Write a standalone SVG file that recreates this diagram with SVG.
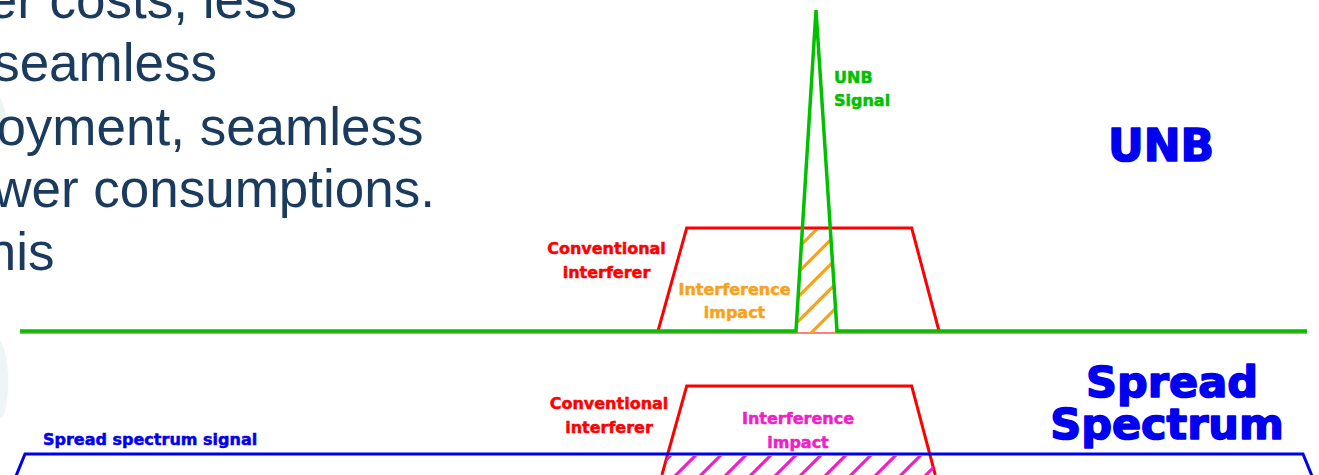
<svg xmlns="http://www.w3.org/2000/svg" width="1319" height="475" viewBox="0 0 1319 475">
  <style>
    .body { font-family: "Liberation Sans", Arial, sans-serif; font-size: 53px; fill: #1A3A5E; text-anchor: end; }
    .lbl { font-family: "DejaVu Sans", Verdana, sans-serif; font-weight: bold; font-size: 16px; stroke-width: 0.5; }
    .big { font-family: "DejaVu Sans", Verdana, sans-serif; font-weight: bold; fill: #0000F0; stroke: #0000F0; stroke-width: 1.6; stroke-linejoin: round; text-anchor: middle; }
    .red { fill: #FF0000; stroke: #FF0000; text-anchor: middle; }
    .green { fill: #00C000; stroke: #00C000; }
    .orange { fill: #F8A21C; stroke: #F8A21C; text-anchor: middle; }
    .magenta { fill: #F020C8; stroke: #F020C8; text-anchor: middle; }
    .blue { fill: #0000F0; stroke: #0000F0; }
    .redline { fill: none; stroke: #FF0000; stroke-width: 3; stroke-linejoin: miter; }
    .greenline { fill: none; stroke: #00C000; stroke-width: 3.5; }
    .blueline { fill: none; stroke: #0000F0; stroke-width: 3; }
    .hatchO { stroke: #F8A21C; stroke-width: 3.2; }
    .hatchM { stroke: #F020C8; stroke-width: 3.2; }
  </style>
  <defs>
    <clipPath id="clipTop">
      <polygon points="802.4,229.5 830.3,229.5 837.2,333 795.8,333"/>
    </clipPath>
    <clipPath id="clipBottom">
      <polygon points="667.5,456 930,456 935.3,475 661.9,475"/>
    </clipPath>
  </defs>
  <rect width="1319" height="475" fill="#FFFFFF"/>

  <!-- faint background remnants at left edge -->
  <g id="background" opacity="0.35">
    <path d="M0,98 C6,108 9,125 4,142 L0,145 Z" fill="#C9DCDC"/>
    <path d="M0,340 C9,355 11,390 4,415 L0,418 Z" fill="#CFE2E2"/>
  </g>

  <!-- slide body text (cut off at left) -->
  <g id="body-text">
    <text class="body" x="297" y="18">er costs, less</text>
    <text class="body" x="217" y="81">seamless</text>
    <text class="body" x="423.5" y="145">oyment, seamless</text>
    <text class="body" x="435" y="207">wer consumptions.</text>
    <text class="body" x="54.5" y="270">his</text>
  </g>

  <!-- UNB chart -->
  <g id="unb-interferer">
    <line x1="20" y1="333" x2="1307" y2="333" stroke="#FF0000" stroke-width="1.2"/>
    <polyline class="redline" points="658,331 686.7,228 911.7,228 939,331"/>
  </g>
  <g id="unb-impact" clip-path="url(#clipTop)">
    <line class="hatchO" x1="706" y1="340" x2="826" y2="220"/>
    <line class="hatchO" x1="730.5" y1="340" x2="850.5" y2="220"/>
    <line class="hatchO" x1="755" y1="340" x2="875" y2="220"/>
    <line class="hatchO" x1="779.5" y1="340" x2="899.5" y2="220"/>
    <line class="hatchO" x1="804" y1="340" x2="924" y2="220"/>
    <line class="hatchO" x1="828.5" y1="340" x2="948.5" y2="220"/>
  </g>
  <g id="unb-signal">
    <polyline class="greenline" points="20,331 796,331 816,10 837,331 1307,331"/>
  </g>

  <!-- Spread spectrum chart -->
  <g id="ss-interferer">
    <polyline class="redline" points="661.9,475 686.7,386 911.7,386 935.3,475"/>
  </g>
  <g id="ss-impact" clip-path="url(#clipBottom)">
    <line class="hatchM" x1="646" y1="480" x2="676" y2="450"/>
    <line class="hatchM" x1="671" y1="480" x2="701" y2="450"/>
    <line class="hatchM" x1="696" y1="480" x2="726" y2="450"/>
    <line class="hatchM" x1="721" y1="480" x2="751" y2="450"/>
    <line class="hatchM" x1="746" y1="480" x2="776" y2="450"/>
    <line class="hatchM" x1="771" y1="480" x2="801" y2="450"/>
    <line class="hatchM" x1="796" y1="480" x2="826" y2="450"/>
    <line class="hatchM" x1="821" y1="480" x2="851" y2="450"/>
    <line class="hatchM" x1="846" y1="480" x2="876" y2="450"/>
    <line class="hatchM" x1="871" y1="480" x2="901" y2="450"/>
    <line class="hatchM" x1="896" y1="480" x2="926" y2="450"/>
    <line class="hatchM" x1="921" y1="480" x2="951" y2="450"/>
  </g>
  <g id="ss-signal">
    <polyline class="blueline" points="16,476 25,454 1303,454 1312,476"/>
  </g>

  <!-- labels -->
  <g id="labels">
    <text class="lbl green" x="834" y="83">UNB</text>
    <text class="lbl green" x="834" y="106">Signal</text>
    <text class="lbl red" x="606.5" y="254">Conventional</text>
    <text class="lbl red" x="606.5" y="278">interferer</text>
    <text class="lbl orange" x="734.5" y="295">Interference</text>
    <text class="lbl orange" x="734.5" y="318">impact</text>
    <text class="lbl red" x="609" y="409">Conventional</text>
    <text class="lbl red" x="609" y="433">interferer</text>
    <text class="lbl magenta" x="798" y="424">Interference</text>
    <text class="lbl magenta" x="798" y="448">impact</text>
    <text class="lbl blue" x="43" y="445" font-size="16.4">Spread spectrum signal</text>
    <text class="big" x="1161" y="161" font-size="44">UNB</text>
    <text class="big" x="1172" y="397" font-size="43">Spread</text>
    <text class="big" x="1167" y="439" font-size="43">Spectrum</text>
  </g>
</svg>
